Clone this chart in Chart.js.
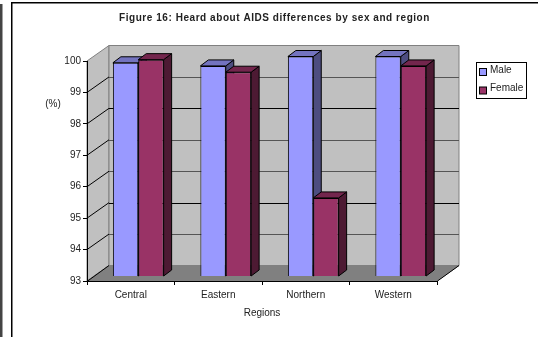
<!DOCTYPE html>
<html>
<head>
<meta charset="utf-8">
<title>Figure 16</title>
<script src="https://cdn.jsdelivr.net/npm/chart.js@4/dist/chart.umd.min.js"></script>
<style>
  html, body { margin: 0; padding: 0; background: #fff; }
  #wrap { width: 538px; height: 337px; }
</style>
</head>
<body>
<div id="wrap"><canvas id="chart" width="538" height="337"></canvas></div>
<script>
const regions = ['Central', 'Eastern', 'Northern', 'Western'];
const maleValues = [99.8, 99.7, 100, 100];
const femaleValues = [99.9, 99.5, 95.5, 99.7];

const FONT = '"Liberation Sans", Arial, sans-serif';
const TEXT = '#222';
const WALL = { dx: 22, dy: -15.5 };      // how far the back wall sits behind the axes
const BAR_SHIFT = { dx: 7.5, dy: -4.5 }; // bars stand in the middle of the floor
const BAR_DEPTH = { dx: 8, dy: -6 };
const gridShades = { 99: '#555', 98: '#000', 97: '#555', 96: '#555', 95: '#000', 94: '#555' };

function poly(ctx, pts, fill, stroke) {
    ctx.beginPath();
    pts.forEach((p, i) => (i ? ctx.lineTo(p[0], p[1]) : ctx.moveTo(p[0], p[1])));
    ctx.closePath();
    ctx.fillStyle = fill;
    ctx.fill();
    if (stroke) {
        ctx.strokeStyle = stroke;
        ctx.lineWidth = 1;
        ctx.stroke();
    }
}

const frame3d = {
    id: 'frame3d',
    beforeDraw(chart) {
        const ctx = chart.ctx;
        const { left, right, top, bottom } = chart.chartArea;
        const { dx, dy } = WALL;

        // page edge and outer border
        ctx.fillStyle = '#444';
        ctx.fillRect(0, 4, 2.5, 333);
        ctx.fillStyle = '#000';
        ctx.fillRect(11, 2, 527, 1.5);
        ctx.fillRect(11, 2, 1.5, 335);

        // side wall, back wall, floor
        poly(ctx, [[left, top], [left + dx, top + dy], [left + dx, bottom + dy], [left, bottom]], '#c0c0c0', '#808080');
        poly(ctx, [[left + dx, top + dy], [right + dx, top + dy], [right + dx, bottom + dy], [left + dx, bottom + dy]], '#c0c0c0', '#808080');
        poly(ctx, [[left, bottom], [left + dx, bottom + dy], [right + dx, bottom + dy], [right, bottom]], '#808080', '#808080');

        // gridlines run up the side wall and across the back
        const y = chart.scales.y;
        y.ticks.forEach(t => {
            if (t.value === y.min || t.value === y.max) return;
            const py = y.getPixelForValue(t.value);
            ctx.strokeStyle = '#000';
            ctx.lineWidth = 1;
            ctx.beginPath();
            ctx.moveTo(left, py);
            ctx.lineTo(left + dx, py + dy);
            ctx.stroke();
            ctx.strokeStyle = gridShades[t.value];
            ctx.beginPath();
            ctx.moveTo(left + dx, Math.round(py + dy) + 0.5);
            ctx.lineTo(right + dx, Math.round(py + dy) + 0.5);
            ctx.stroke();
        });

        // edges where the floor meets the axes
        ctx.strokeStyle = '#000';
        ctx.lineWidth = 1;
        ctx.beginPath();
        ctx.moveTo(left, bottom + 0.5);
        ctx.lineTo(left + dx, bottom + dy);
        ctx.moveTo(right + 0.5, bottom);
        ctx.lineTo(right + dx, bottom + dy);
        ctx.stroke();
    },
    beforeDatasetsDraw(chart) {
        const ctx = chart.ctx;
        const { dx, dy } = BAR_DEPTH;
        ctx.save();
        ctx.translate(BAR_SHIFT.dx, BAR_SHIFT.dy);
        // sides and tops go first, the library then paints the front faces over them
        chart.data.datasets.forEach((ds, i) => {
            chart.getDatasetMeta(i).data.forEach(bar => {
                const x0 = bar.x - bar.width / 2;
                const x1 = bar.x + bar.width / 2;
                poly(ctx, [[x1, bar.y], [x1 + dx, bar.y + dy], [x1 + dx, bar.base + dy], [x1, bar.base]], ds.sideColor, '#000');
                poly(ctx, [[x0, bar.y], [x0 + dx, bar.y + dy], [x1 + dx, bar.y + dy], [x1, bar.y]], ds.topColor, '#000');
            });
        });
    },
    afterDatasetsDraw(chart) {
        chart.ctx.restore();
    },
    afterDraw(chart) {
        const ctx = chart.ctx;
        ctx.textBaseline = 'middle';

        // chart title
        ctx.save();
        ctx.font = 'bold 10px ' + FONT;
        ctx.letterSpacing = '0.55px';
        ctx.fillStyle = TEXT;
        ctx.textAlign = 'center';
        ctx.fillText('Figure 16: Heard about AIDS differences by sex and region', 274.5, 18);
        ctx.restore();

        // value axis caption sits level, off to the side
        ctx.font = '10px ' + FONT;
        ctx.fillStyle = TEXT;
        ctx.textAlign = 'center';
        ctx.fillText('(%)', 53, 104);

        // legend
        ctx.strokeStyle = '#000';
        ctx.lineWidth = 1;
        ctx.strokeRect(476.5, 62.5, 50, 36);
        chart.data.datasets.forEach((ds, i) => {
            const ly = 71.5 + i * 18.5;
            ctx.fillStyle = ds.backgroundColor;
            ctx.fillRect(479.5, ly - 3, 7, 7);
            ctx.strokeRect(479.5, ly - 3, 7, 7);
            ctx.fillStyle = TEXT;
            ctx.textAlign = 'left';
            ctx.fillText(ds.label, 490, ly - 1.5);
        });
    }
};

new Chart(document.getElementById('chart'), {
    type: 'bar',
    data: {
        labels: regions,
        datasets: [
            { label: 'Male', data: maleValues, base: 93, backgroundColor: '#9999ff', sideColor: '#4d4d80', topColor: '#7373bf', borderColor: '#000', borderWidth: 1 },
            { label: 'Female', data: femaleValues, base: 93, backgroundColor: '#993366', sideColor: '#4d1a33', topColor: '#73264d', borderColor: '#000', borderWidth: 1 }
        ]
    },
    plugins: [frame3d],
    options: {
        responsive: false,
        animation: false,
        layout: { padding: { top: 61, right: 101, bottom: 0, left: 0 } },
        categoryPercentage: 0.58,
        barPercentage: 1,
        plugins: {
            legend: { display: false },
            title: { display: false },
            tooltip: { enabled: false }
        },
        scales: {
            x: {
                afterFit(scale) { scale.height = 56; },
                border: { color: '#000' },
                grid: { drawOnChartArea: false, tickColor: '#000', tickLength: 4 },
                ticks: { color: TEXT, font: { family: FONT, size: 10 }, padding: 4, maxRotation: 0 },
                title: {
                    display: true,
                    text: 'Regions',
                    color: TEXT,
                    font: { family: FONT, size: 10 },
                    padding: { top: 0, bottom: 18 }
                }
            },
            y: {
                min: 93,
                max: 100,
                afterFit(scale) { scale.width = 87; },
                border: { color: '#000' },
                grid: { drawOnChartArea: false, tickColor: '#000', tickLength: 4 },
                ticks: { stepSize: 1, color: TEXT, font: { family: FONT, size: 10 }, padding: 2 }
            }
        }
    }
});
</script>
</body>
</html>
